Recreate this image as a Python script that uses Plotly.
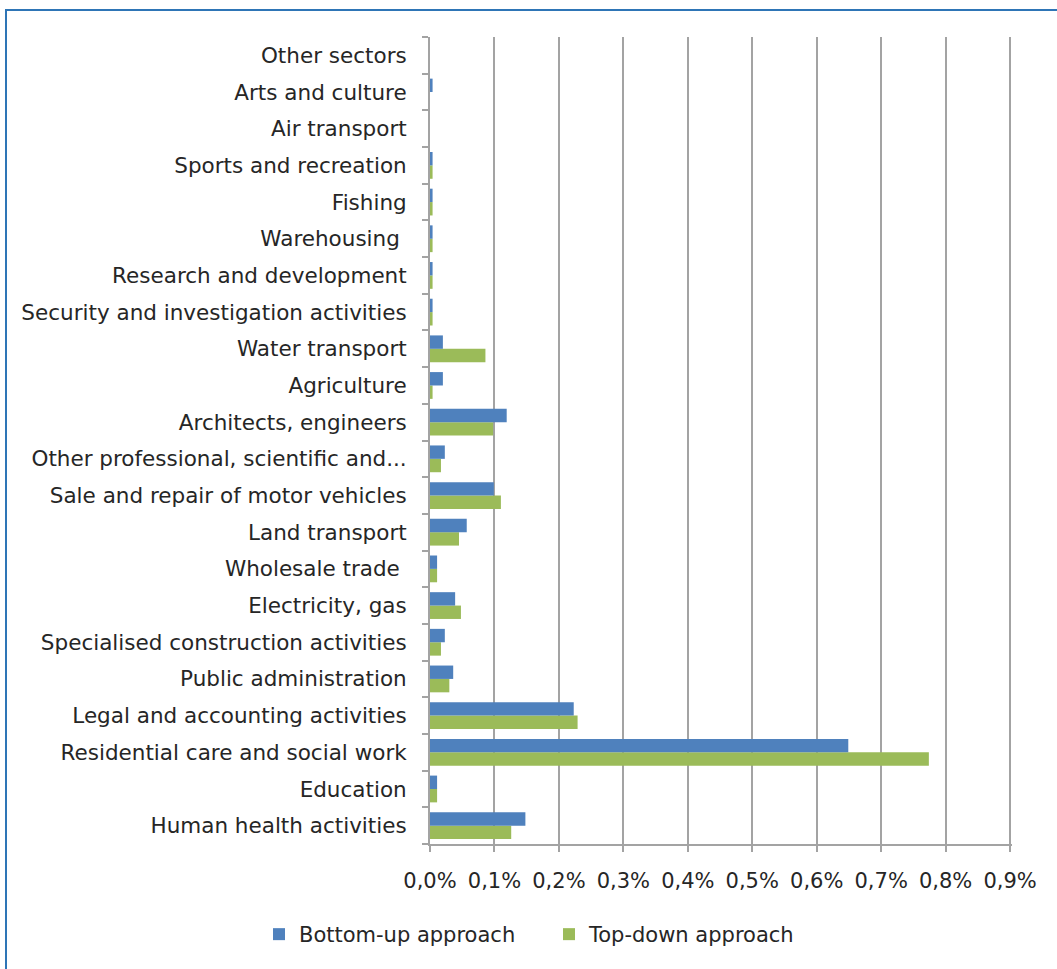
import plotly.graph_objects as go

categories = [
    "Human health activities",
    "Education",
    "Residential care and social work",
    "Legal and accounting activities",
    "Public administration",
    "Specialised construction activities",
    "Electricity, gas",
    "Wholesale trade ",
    "Land transport",
    "Sale and repair of motor vehicles",
    "Other professional, scientific and...",
    "Architects, engineers",
    "Agriculture",
    "Water transport",
    "Security and investigation activities",
    "Research and development",
    "Warehousing ",
    "Fishing",
    "Sports and recreation",
    "Air transport",
    "Arts and culture",
    "Other sectors",
]

bottom_up = [0.148, 0.011, 0.649, 0.223, 0.036, 0.023, 0.039, 0.011, 0.057, 0.099,
             0.023, 0.119, 0.020, 0.020, 0.004, 0.004, 0.004, 0.004, 0.004, 0.0, 0.004, 0.0]
top_down = [0.126, 0.011, 0.774, 0.229, 0.030, 0.017, 0.048, 0.011, 0.045, 0.110,
            0.017, 0.098, 0.004, 0.086, 0.004, 0.004, 0.004, 0.004, 0.004, 0.0, 0.0, 0.0]

x_ticks = [0.0, 0.1, 0.2, 0.3, 0.4, 0.5, 0.6, 0.7, 0.8, 0.9]
x_tick_labels = ["0,0%", "0,1%", "0,2%", "0,3%", "0,4%", "0,5%", "0,6%", "0,7%", "0,8%", "0,9%"]

BLUE = "#4F81BD"
GREEN = "#9BBB59"
FONT = "DejaVu Sans"
TXT = "#262626"
GRID = "#A3A3A3"

W, H = 1057, 969
L, R, T, B = 430, 45, 37, 125

fig = go.Figure()
fig.add_trace(go.Bar(
    y=categories, x=top_down, orientation="h", name="Top-down approach",
    marker=dict(color=GREEN, line=dict(width=0)), legend="legend2",
))
fig.add_trace(go.Bar(
    y=categories, x=bottom_up, orientation="h", name="Bottom-up approach",
    marker=dict(color=BLUE, line=dict(width=0)), legend="legend",
))

pw = W - L - R
ph = H - T - B
fig.add_shape(
    type="rect", xref="paper", yref="paper",
    x0=(6 - L) / pw, x1=(W + 20 - L) / pw,
    y0=(H - T - B - (H + 20 - T)) / ph, y1=(ph - (10 - T)) / ph,
    line=dict(color="#2E75B6", width=2), layer="below",
)

legend_common = dict(
    orientation="h", xref="container", yref="container",
    xanchor="left", yanchor="top", y=1 - 914 / H,
    font=dict(family=FONT, size=21, color=TXT),
    itemwidth=30, bgcolor="rgba(0,0,0,0)",
)

fig.update_layout(
    width=W, height=H,
    margin=dict(l=L, r=R, t=T, b=B, pad=0, autoexpand=False),
    paper_bgcolor="white", plot_bgcolor="white",
    barmode="group", bargap=0.27, bargroupgap=0,
    font=dict(family=FONT, size=21, color=TXT),
    showlegend=True,
    legend=dict(x=259 / W, **legend_common),
    legend2=dict(x=549 / W, **legend_common),
    xaxis=dict(
        range=[0, 0.903], tickvals=x_ticks, ticktext=x_tick_labels,
        showgrid=True, gridcolor=GRID, gridwidth=2,
        showline=True, linecolor=GRID, linewidth=2,
        ticks="outside", ticklen=6, tickcolor=GRID, tickwidth=2,
        zeroline=False, tickfont=dict(size=21, color=TXT),
        ticklabelstandoff=11, fixedrange=True,
    ),
    yaxis=dict(
        type="category", categoryorder="array", categoryarray=categories,
        showline=True, linecolor=GRID, linewidth=2,
        ticks="outside", tickson="boundaries", ticklen=6, tickcolor=GRID, tickwidth=2,
        showgrid=False, zeroline=False, tickfont=dict(size=21.5, color=TXT),
        ticklabelstandoff=17,
    ),
)

fig.write_html("out.html")
